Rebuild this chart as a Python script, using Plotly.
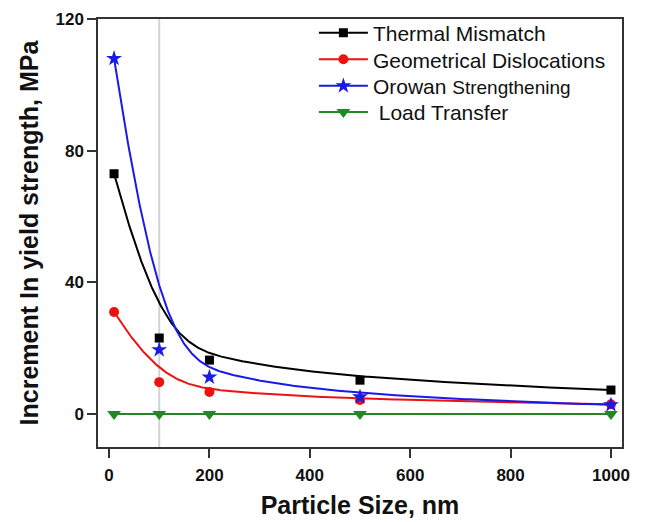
import numpy as np
import plotly.graph_objects as go

# Particle sizes (nm) and strengthening contributions (MPa)
particle_size = [10, 100, 200, 500, 1000]
thermal_mismatch = [73.0, 23.1, 16.4, 10.3, 7.3]
geometric_disloc = [31.0, 9.7, 6.7, 4.3, 3.0]
orowan = [108.0, 19.5, 11.2, 5.2, 2.8]
load_transfer = [0.0, 0.0, 0.0, 0.0, 0.0]

x_ticks = [0, 200, 400, 600, 800, 1000]
y_ticks = [0, 40, 80, 120]


def bspline_curve(xs, ys, n=300, k=3):
    """Clamped B-spline that uses the data points as control points."""
    P = np.column_stack([xs, ys]).astype(float)
    m = len(P)
    inner = np.linspace(0, 1, m - k + 1)[1:-1]
    knots = np.concatenate([np.zeros(k + 1), inner, np.ones(k + 1)])
    t = np.linspace(0, 1, n)
    t[-1] = 1 - 1e-12

    def basis(i, p, u):
        if p == 0:
            return np.where((knots[i] <= u) & (u < knots[i + 1]), 1.0, 0.0)
        a = 0.0
        d1 = knots[i + p] - knots[i]
        if d1 > 0:
            a = (u - knots[i]) / d1 * basis(i, p - 1, u)
        b = 0.0
        d2 = knots[i + p + 1] - knots[i + 1]
        if d2 > 0:
            b = (knots[i + p + 1] - u) / d2 * basis(i + 1, p - 1, u)
        return a + b

    B = np.array([basis(i, k, t) for i in range(m)])
    curve = B.T @ P
    return curve[:, 0], curve[:, 1]


series = [
    ("Thermal Mismatch", thermal_mismatch, "#000000", "square", 9),
    ("Geometrical Dislocations", geometric_disloc, "#ee1111", "circle", 10),
    ("Orowan <span style='font-size:19px'>Strengthening</span>", orowan, "#1a1ae6", "star", 12),
    (" Load Transfer", load_transfer, "#1f8a1f", "triangle-down", 12),
]
legend_ids = ["legend", "legend2", "legend3", "legend4"]
legend_rows = [0.967, 0.905, 0.843, 0.782]

fig = go.Figure()

for i, (name, vals, color, symbol, msize) in enumerate(series):
    cx, cy = bspline_curve(particle_size, vals)
    # smooth B-spline connecting curve
    fig.add_trace(go.Scatter(
        x=cx, y=cy, mode="lines",
        line=dict(color=color, width=2),
        showlegend=False, hoverinfo="skip",
    ))
    # measured points
    fig.add_trace(go.Scatter(
        x=particle_size, y=vals, mode="markers",
        marker=dict(symbol=symbol, size=msize, color=color),
        showlegend=False,
    ))
    # legend entry (line + symbol)
    fig.add_trace(go.Scatter(
        x=[None], y=[None], mode="lines+markers", name=name,
        line=dict(color=color, width=2),
        marker=dict(symbol=symbol, size=msize, color=color),
        legend=legend_ids[i],
    ))

# vertical reference line at 100 nm
fig.add_shape(type="line", x0=100, x1=100, y0=0, y1=1, yref="paper",
              line=dict(color="#d2d2d2", width=2), layer="below")

axis_common = dict(
    showline=True, mirror=True, linecolor="#333333", linewidth=1.5,
    ticks="outside", ticklen=9, tickwidth=1.5, tickcolor="#333333",
    showgrid=False, zeroline=False, automargin=False,
    tickfont=dict(family="Liberation Sans", size=17, color="#111111", weight="bold"),
)

fig.update_xaxes(
    range=[-22, 1022], tickvals=x_ticks, ticklabelstandoff=3,
    title=dict(text="Particle Size, nm", standoff=12,
               font=dict(family="Liberation Sans", size=25, color="#111111", weight="bold")),
    **axis_common,
)
fig.update_yaxes(
    range=[-10, 120], tickvals=y_ticks,
    title=dict(text="Increment In yield strength, MPa", standoff=10,
               font=dict(family="Liberation Sans", size=25, color="#111111", weight="bold")),
    **axis_common,
)

legend_style = dict(
    x=0.412, xanchor="left", yanchor="middle",
    font=dict(family="Liberation Sans", size=21, color="#111111"),
    bgcolor="rgba(0,0,0,0)", itemwidth=49,
)

fig.update_layout(
    width=646, height=522,
    margin=dict(l=98, r=24, t=19, b=75),
    plot_bgcolor="white", paper_bgcolor="white",
    **{lid: dict(y=ly, **legend_style) for lid, ly in zip(legend_ids, legend_rows)},
)

fig.write_html("out.html")
